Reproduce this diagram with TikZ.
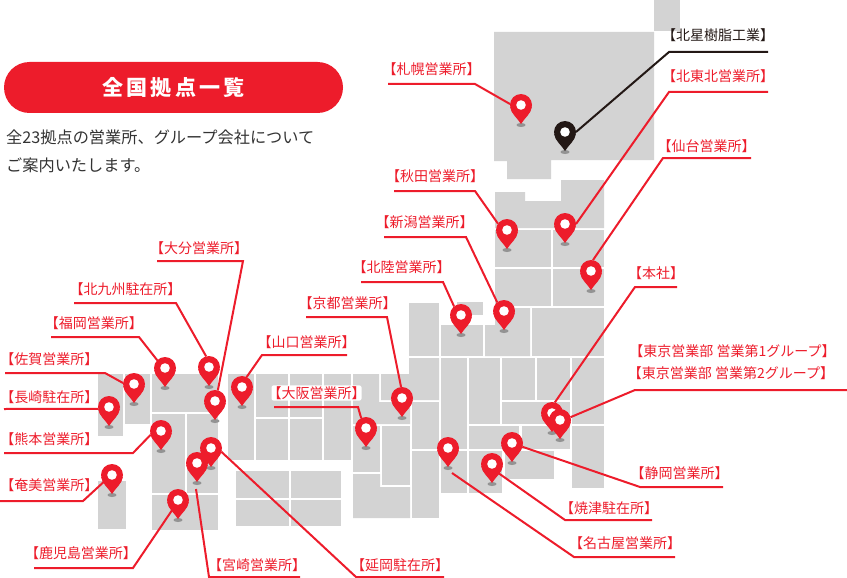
\documentclass[tikz,border=0pt]{standalone}
\usepackage{fontspec}
\setmainfont{Noto Sans CJK JP}
\usetikzlibrary{positioning}
\definecolor{pinred}{HTML}{ED1C2B}
\definecolor{pinblack}{HTML}{231815}
\definecolor{landgray}{HTML}{D3D3D3}
\newcommand{\mappin}[4][pinred]{
    \begin{scope}[shift={(#3,#4)}]
        \fill[gray!85] (0,20) ellipse (4.5 and 2);
        \fill[#1] (-10.8,2) .. controls (-10,9) and (-3.5,13) .. (0,19) .. controls (3.5,13) and (10,9) .. (10.8,2) -- cycle;
        \node[pinhead, fill=#1] (#2) at (0,0) {};
        \fill[white] (0,0) circle (4.8);
    \end{scope}
}
\begin{document}
\begin{tikzpicture}[
                x=1pt,
                y=-1pt,
                land/.style = {
                    fill = landgray
                },
                pinhead/.style = {
                    circle,
                    minimum size = 22pt,
                    inner sep = 0pt,
                    outer sep = 0pt
                },
                office/.style = {
                    text = pinred,
                    font = \fontsize{14}{14}\selectfont,
                    inner sep = 0pt,
                    yshift = -1pt
                },
                conn/.style = {
                    line width = 2pt,
                    draw = pinred,
                    line join = miter
                },
                title/.style = {
                    fill = pinred,
                    text = white,
                    rounded corners = 25.5pt,
                    minimum width = 339pt,
                    minimum height = 51pt,
                    inner sep = 0pt,
                    font = \addfontfeature{LetterSpace=15}\fontsize{21}{21}\selectfont\bfseries
                }
            ]
            \useasboundingbox (0,0) rectangle (847,578);
            % 
            \fill[land] (654,0) rectangle (680,31);
            \fill[land] (494,32) -- (654,32) -- (654,160) -- (551,160) -- (551,179) -- (507,179) -- (507,161) -- (494,161) -- cycle;
            \fill[land] (495,192) -- (525,192) -- (525,201) -- (561,201) -- (561,180) -- (604,180) -- (604,228) -- (495,228) -- cycle;
            \fill[land] (495,230) rectangle (551,267);
            \fill[land] (553,230) rectangle (604,267);
            \fill[land] (495,269) rectangle (551,306);
            \fill[land] (553,269) rectangle (604,306);
            % 
            \fill[land] (457,302) rectangle (483,315);
            \fill[land] (409,303) rectangle (439,356);
            \fill[land] (441,325) rectangle (483,356);
            \fill[land] (485,325) -- (495,325) -- (495,308) -- (530,308) -- (530,356) -- (485,356) -- cycle;
            \fill[land] (532,308) rectangle (604,356);
            % 
            \fill[land] (381,374) -- (409,374) -- (409,358) -- (439,358) -- (439,400) -- (381,400) -- cycle;
            \fill[land] (353,374) -- (379,374) -- (379,402) -- (410,402) -- (410,424) -- (353,424) -- cycle;
            \fill[land] (353,426) rectangle (380,472);
            \fill[land] (382,426) rectangle (410,485);
            \fill[land] (353,474) -- (380,474) -- (380,487) -- (410,487) -- (410,518) -- (353,518) -- cycle;
            \fill[land] (412,402) rectangle (439,449);
            \fill[land] (412,451) rectangle (439,518);
            \fill[land] (441,358) rectangle (467,449);
            \fill[land] (441,451) rectangle (467,493);
            \fill[land] (469,358) rectangle (500,424);
            \fill[land] (469,426) rectangle (519,449);
            \fill[land] (469,451) rectangle (502,493);
            \fill[land] (502,358) rectangle (535,400);
            \fill[land] (537,358) rectangle (570,400);
            \fill[land] (502,402) rectangle (570,424);
            \fill[land] (522,426) rectangle (570,449);
            \fill[land] (505,451) rectangle (554,479);
            \fill[land] (572,358) rectangle (604,424);
            \fill[land] (572,426) rectangle (604,488);
            % 
            \fill[land] (228,374) rectangle (254,460);
            \fill[land] (256,374) rectangle (288,417);
            \fill[land] (290,374) rectangle (322,417);
            \fill[land] (324,374) rectangle (351,460);
            \fill[land] (256,419) rectangle (288,460);
            \fill[land] (290,419) rectangle (322,460);
            \fill[land] (236,471) rectangle (289,498);
            \fill[land] (291,471) rectangle (341,498);
            \fill[land] (236,500) rectangle (289,526);
            \fill[land] (291,500) rectangle (341,526);
            % 
            \fill[land] (98,374) rectangle (123,436);
            \fill[land] (125,374) rectangle (150,424);
            \fill[land] (152,374) rectangle (218,412);
            \fill[land] (152,414) rectangle (185,493);
            \fill[land] (187,414) rectangle (218,493);
            \fill[land] (152,495) rectangle (218,530);
            \fill[land] (98,481) rectangle (126,529);
            % 
            \node[title] (heading) at (173.5,87.5) {全国拠点一覧};
            \node[anchor=west, align=left, inner sep=0pt, text=black!80, font=\fontsize{16.2}{28}\selectfont] (lead) at (6,151) {全23拠点の営業所、グループ会社について\\ご案内いたします。};
            % 
            \mappin{sapporo}{521}{105}
            \mappin[pinblack]{hokusei}{565}{132}
            \mappin{kitatohoku}{565}{224}
            \mappin{sendai}{591}{271}
            \mappin{akita}{507}{230}
            \mappin{niigata}{504}{311}
            \mappin{hokuriku}{461}{315}
            \mappin{kyoto}{402}{398}
            \mappin{osaka}{366}{428}
            \mappin{nagoya}{448}{448}
            \mappin{yaizu}{492}{464}
            \mappin{shizuoka}{512}{443}
            \mappin{tokyoa}{552}{413}
            \mappin{tokyob}{560}{420}
            \mappin{fukuoka}{165}{368}
            \mappin{kitakyushu}{209}{367}
            \mappin{oita}{215}{401}
            \mappin{saga}{134}{384}
            \mappin{nagasaki}{109}{407}
            \mappin{kumamoto}{161}{431}
            \mappin{yamaguchi}{242}{387}
            \mappin{amami}{112}{475}
            \mappin{kagoshima}{178}{500}
            \mappin{nobeoka}{211}{448}
            \mappin{miyazaki}{197}{463}
            % 
            \node[office, text=pinblack] (hokuseiL) at (718,34) {【北星樹脂工業】};
            \coordinate (hokuseiA) at (768,52);
            \draw[conn, draw=pinblack] (hokuseiA) -- ++(-99,0) -- (hokusei.0);
            % 
            \node[office] (sapporoL) at (431.5,68) {【札幌営業所】};
            \coordinate (sapporoA) at (388,84);
            \draw[conn] (sapporoA) -- ++(87,0) -- (sapporo.175);
            % 
            \node[office] (kitatohokuL) at (718,75) {【北東北営業所】};
            \coordinate (kitatohokuA) at (768,92);
            \draw[conn] (kitatohokuA) -- ++(-99,0) -- (kitatohoku.0);
            % 
            \node[office] (sendaiL) at (706.5,145) {【仙台営業所】};
            \coordinate (sendaiA) at (751,158);
            \draw[conn] (sendaiA) -- ++(-88,0) -- (sendai.80);
            % 
            \node[office] (akitaL) at (435,175) {【秋田営業所】};
            \coordinate (akitaA) at (394,191);
            \draw[conn] (akitaA) -- ++(81,0) -- (akita.145);
            % 
            \node[office] (niigataL) at (424.5,221) {【新潟営業所】};
            \coordinate (niigataA) at (384,237);
            \draw[conn] (niigataA) -- ++(82,0) -- (niigata.128);
            % 
            \node[office] (hokurikuL) at (401.5,266) {【北陸営業所】};
            \coordinate (hokurikuA) at (361,282);
            \draw[conn] (hokurikuA) -- ++(82,0) -- (hokuriku.129);
            % 
            \node[office] (honshaL) at (656,272) {【本社】};
            \coordinate (honshaA) at (677,287);
            \draw[conn] (honshaA) -- ++(-42,0) -- (tokyoa.75);
            % 
            \node[office] (kyotoL) at (347.5,302) {【京都営業所】};
            \coordinate (kyotoA) at (306,317);
            \draw[conn] (kyotoA) -- ++(81,0) -- (kyoto.95);
            % 
            \node[office] (tokyoaL) at (732.5,350) {【東京営業部 営業第1グループ】};
            \node[office] (tokyobL) at (731,372) {【東京営業部 営業第2グループ】};
            \coordinate (tokyobA) at (847,390);
            \draw[conn] (tokyobA) -- ++(-212,0) -- (tokyob.15);
            % 
            \node[office, fill=white, inner xsep=-4pt, inner ysep=1pt, rounded corners=2pt] (osakaL) at (316.5,392) {【大阪営業所】};
            \coordinate (osakaA) at (274,407);
            \draw[conn] (osakaA) -- ++(84,0) -- (osaka.116);
            % 
            \node[office] (shizuokaL) at (679.5,472) {【静岡営業所】};
            \coordinate (shizuokaA) at (723,487);
            \draw[conn] (shizuokaA) -- ++(-83,0) -- (shizuoka.-20);
            % 
            \node[office] (yaizuL) at (609,507) {【焼津駐在所】};
            \coordinate (yaizuA) at (652,520);
            \draw[conn] (yaizuA) -- ++(-87,0) -- (yaizu.-55);
            % 
            \node[office] (nagoyaL) at (625,542) {【名古屋営業所】};
            \coordinate (nagoyaA) at (675,557);
            \coordinate (nagoyaE) at (452,473);
            \draw[conn] (nagoyaA) -- ++(-101,0) -- (nagoyaE);
            % 
            \node[office] (oitaL) at (199,247) {【大分営業所】};
            \coordinate (oitaA) at (157,261);
            \draw[conn] (oitaA) -- ++(86,0) -- (oita.75);
            % 
            \node[office] (kitakyushuL) at (125.5,288) {【北九州駐在所】};
            \coordinate (kitakyushuA) at (74,303);
            \draw[conn] (kitakyushuA) -- ++(102,0) -- (kitakyushu.105);
            % 
            \node[office] (fukuokaL) at (94,322) {【福岡営業所】};
            \coordinate (fukuokaA) at (51,337);
            \draw[conn] (fukuokaA) -- ++(88,0) -- (fukuoka.135);
            % 
            \node[office] (sagaL) at (49.5,358) {【佐賀営業所】};
            \coordinate (sagaA) at (5,373);
            \draw[conn] (sagaA) -- ++(100,0) -- (saga.175);
            % 
            \node[office] (nagasakiL) at (49.5,396) {【長崎駐在所】};
            \coordinate (nagasakiA) at (4,409);
            \draw[conn] (nagasakiA) -- (nagasaki.190);
            % 
            \node[office] (kumamotoL) at (49.5,438) {【熊本営業所】};
            \coordinate (kumamotoA) at (4,453);
            \draw[conn] (kumamotoA) -- ++(129,0) -- (kumamoto.200);
            % 
            \node[office] (yamaguchiL) at (306.5,341) {【山口営業所】};
            \coordinate (yamaguchiA) at (347,355);
            \draw[conn] (yamaguchiA) -- ++(-85,0) -- (yamaguchi.65);
            % 
            \node[office] (amamiL) at (49.5,484) {【奄美営業所】};
            \coordinate (amamiA) at (0,501);
            \draw[conn] (amamiA) -- ++(83,0) -- (amami.220);
            % 
            \node[office] (kagoshimaL) at (81,552) {【鹿児島営業所】};
            \coordinate (kagoshimaA) at (34,568);
            \draw[conn] (kagoshimaA) -- ++(99,0) -- (kagoshima.240);
            % 
            \node[office] (miyazakiL) at (257,564) {【宮崎営業所】};
            \coordinate (miyazakiA) at (300,577);
            \coordinate (miyazakiE) at (196,489);
            \draw[conn] (miyazakiA) -- ++(-91,0) -- (miyazakiE);
            % 
            \node[office] (nobeokaL) at (400,564) {【延岡駐在所】};
            \coordinate (nobeokaA) at (444,577);
            \draw[conn] (nobeokaA) -- ++(-88,0) -- (nobeoka.340);
            % 
        \end{tikzpicture}
\end{document}
